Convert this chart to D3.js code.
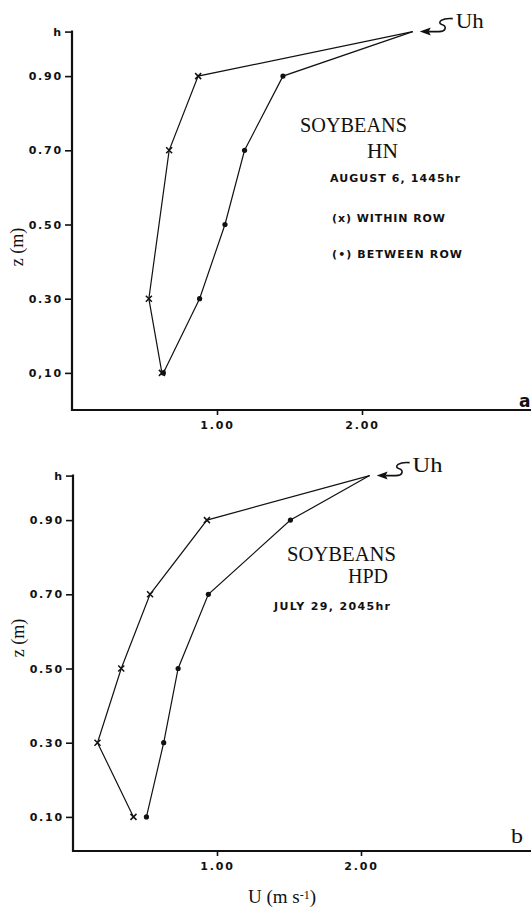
<!DOCTYPE html>
<html>
<head>
<meta charset="utf-8">
<script src="https://cdn.jsdelivr.net/npm/d3@7"></script>
<style>
  html, body { margin: 0; padding: 0; background: #fff; }
  svg { display: block; }
  .tick text { font-family: "DejaVu Sans", sans-serif; font-weight: bold; font-size: 11px; letter-spacing: 1.8px; fill: #111; }
  .tick line { stroke: #111; stroke-width: 1.6px; }
</style>
</head>
<body>
<svg id="chart" width="531" height="909"></svg>
<script>
// ---------- data ----------
const heightLevels = [0.1, 0.3, 0.5, 0.7, 0.9, 1.02];          // 1.02 = canopy height h
const yTickLabelsA = ["0,10", "0.30", "0.50", "0.70", "0.90", "h"];
const yTickLabelsB = ["0.10", "0.30", "0.50", "0.70", "0.90", "h"];
const xTickValues = [1, 2];
const xTickLabels = ["1.00", "2.00"];

// Panel a : Soybeans HN, August 6, 1445hr
const withinHeightsA = [0.1, 0.3, 0.7, 0.9, 1.02];
const withinSpeedA   = [0.62, 0.53, 0.67, 0.87, 2.35];
const betweenHeightsA = [0.1, 0.3, 0.5, 0.7, 0.9, 1.02];
const betweenSpeedA   = [0.63, 0.88, 1.055, 1.19, 1.455, 2.35];

// Panel b : Soybeans HPD, July 29, 2045hr
const withinHeightsB = [0.1, 0.3, 0.5, 0.7, 0.9, 1.02];
const withinSpeedB   = [0.42, 0.17, 0.335, 0.535, 0.93, 2.06];
const betweenHeightsB = [0.1, 0.3, 0.5, 0.7, 0.9, 1.02];
const betweenSpeedB   = [0.51, 0.63, 0.73, 0.94, 1.51, 2.06];

const svg = d3.select("#chart");
const ink = "#111";

function drawPanel(p) {
  const g = svg.append("g");
  const x = d3.scaleLinear().domain([0, 1]).range([p.x0, p.x1]);
  const y = d3.scaleLinear().domain([0, 1]).range([p.y0, p.y1]);
  const hVal = heightLevels[heightLevels.length - 1];

  // y axis
  const ya = d3.axisLeft(y).tickValues(heightLevels)
    .tickFormat((d, i) => p.yLabels[i]).tickSize(7).tickSizeOuter(0).tickPadding(2);
  const yg = g.append("g").attr("transform", `translate(${p.x0},0)`).call(ya);
  yg.select(".domain").remove();
  g.append("line").attr("x1", p.x0).attr("x2", p.x0)
    .attr("y1", y(hVal) - 1).attr("y2", p.axisY + 1)
    .attr("stroke", ink).attr("stroke-width", 2.2);

  // x axis
  const xa = d3.axisBottom(x).tickValues(xTickValues)
    .tickFormat((d, i) => xTickLabels[i]).tickSize(5).tickSizeOuter(0).tickPadding(6);
  const xg = g.append("g").attr("transform", `translate(0,${p.axisY})`).call(xa);
  xg.select(".domain").remove();
  g.append("line").attr("x1", p.x0 - 1).attr("x2", 531)
    .attr("y1", p.axisY).attr("y2", p.axisY)
    .attr("stroke", ink).attr("stroke-width", 2.2);

  const line = d3.line().x(d => x(d[0])).y(d => y(d[1]));
  const within = p.withinU.map((u, i) => [u, p.withinZ[i]]);
  const between = p.betweenU.map((u, i) => [u, p.betweenZ[i]]);

  g.append("path").attr("d", line(within)).attr("fill", "none")
    .attr("stroke", ink).attr("stroke-width", 1.2);
  g.append("path").attr("d", line(between)).attr("fill", "none")
    .attr("stroke", ink).attr("stroke-width", 1.2);

  // markers (not at the top point Uh)
  g.selectAll(".bdot").data(between.filter(d => d[1] < 1)).join("circle")
    .attr("cx", d => x(d[0])).attr("cy", d => y(d[1])).attr("r", 2.6).attr("fill", ink);
  const s = 3;
  g.selectAll(".xm").data(within.filter(d => d[1] < 1)).join("path")
    .attr("d", d => { const cx = x(d[0]), cy = y(d[1]);
      return `M${cx - s},${cy - s}L${cx + s},${cy + s}M${cx - s},${cy + s}L${cx + s},${cy - s}`; })
    .attr("stroke", ink).attr("stroke-width", 1.5).attr("fill", "none");

  // Uh arrow + label
  const tx = x(p.withinU[p.withinU.length - 1]) + 7, ty = y(hVal);
  g.append("path")
    .attr("d", `M${tx},${ty} L${tx + 11},${ty - 4} L${tx + 9},${ty} L${tx + 11},${ty + 4} Z`)
    .attr("fill", ink);
  g.append("path")
    .attr("d", `M${tx + 9},${ty} L${tx + 19},${ty} C${tx + 27},${ty} ${tx + 27},${ty - 6} ${tx + 22},${ty - 7} C${tx + 17},${ty - 9} ${tx + 22},${ty - 14} ${tx + 33},${ty - 13}`)
    .attr("fill", "none").attr("stroke", ink).attr("stroke-width", 1.6);
  g.append("text").attr("x", tx + 36).attr("y", ty - 4)
    .attr("font-family", "Liberation Serif, serif").attr("font-size", p.uhSize)
    .attr("textLength", p.uhW).attr("lengthAdjust", "spacingAndGlyphs")
    .attr("fill", ink).text("Uh");

  // y title
  g.append("text")
    .attr("transform", `translate(${p.yTitleX},${p.yTitleY}) rotate(-90)`)
    .attr("text-anchor", "middle").attr("font-family", "Liberation Serif, serif")
    .attr("font-size", 18).attr("fill", ink).text("z (m)");

  // annotations
  p.notes.forEach(n => {
    g.append("text").attr("x", n.x).attr("y", n.y)
      .attr("font-family", n.serif ? "Liberation Serif, serif" : "DejaVu Sans, sans-serif")
      .attr("font-weight", n.serif ? "normal" : "bold")
      .attr("font-size", n.size).attr("textLength", n.w)
      .attr("lengthAdjust", n.serif ? "spacingAndGlyphs" : "spacing")
      .attr("fill", ink).text(n.t);
  });
  return g;
}

drawPanel({
  x0: 72, x1: 217, y0: 410, y1: 39, axisY: 410,
  yLabels: yTickLabelsA,
  withinU: withinSpeedA, withinZ: withinHeightsA,
  betweenU: betweenSpeedA, betweenZ: betweenHeightsA,
  uhSize: 20, uhW: 28, yTitleX: 23, yTitleY: 247,
  notes: [
    { t: "SOYBEANS", x: 300, y: 132, size: 21, w: 107, serif: true },
    { t: "HN", x: 367, y: 158, size: 20, w: 31, serif: true },
    { t: "AUGUST 6, 1445hr", x: 330, y: 182, size: 11, w: 130 },
    { t: "(x) WITHIN ROW", x: 332, y: 222, size: 11, w: 113 },
    { t: "(\u2022) BETWEEN ROW", x: 332, y: 258, size: 11, w: 130 },
    { t: "a", x: 519, y: 407, size: 17, w: 11 }
  ]
});

drawPanel({
  x0: 73, x1: 217, y0: 854, y1: 483, axisY: 851,
  yLabels: yTickLabelsB,
  withinU: withinSpeedB, withinZ: withinHeightsB,
  betweenU: betweenSpeedB, betweenZ: betweenHeightsB,
  uhSize: 22, uhW: 30, yTitleX: 24, yTitleY: 638,
  notes: [
    { t: "SOYBEANS", x: 287, y: 561, size: 21, w: 109, serif: true },
    { t: "HPD", x: 348, y: 583, size: 21, w: 40, serif: true },
    { t: "JULY 29, 2045hr", x: 274, y: 610, size: 11, w: 116 },
    { t: "b", x: 511, y: 843, size: 22, w: 12, serif: true }
  ]
});

// x title
const xt = svg.append("text").attr("x", 282).attr("y", 903).attr("text-anchor", "middle")
  .attr("font-family", "Liberation Serif, serif").attr("font-size", 19).attr("fill", ink);
xt.append("tspan").text("U (m s");
xt.append("tspan").attr("font-size", 12).attr("dy", -4).text("-1");
xt.append("tspan").attr("dy", 4).text(")");
</script>
</body>
</html>
